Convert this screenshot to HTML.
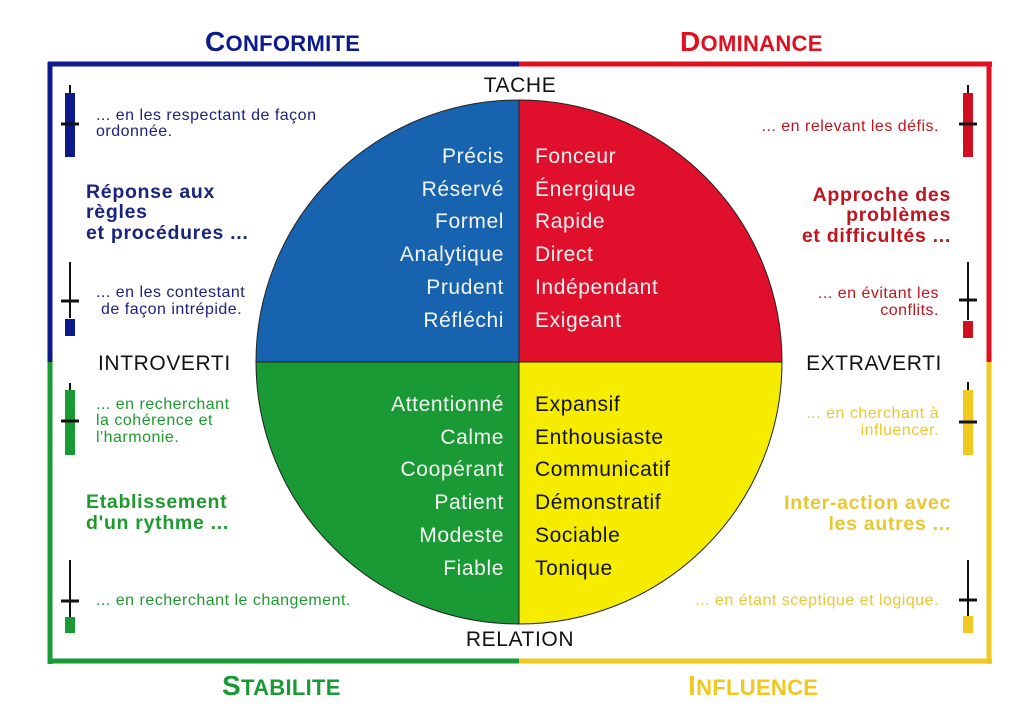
<!DOCTYPE html>
<html><head><meta charset="utf-8"><style>
body{margin:0;background:#fff;}
svg{display:block;font-family:"Liberation Sans",sans-serif;}
</style></head><body>
<svg width="1024" height="714" viewBox="0 0 1024 714">
<rect width="1024" height="714" fill="#fff"/>
<!-- frame -->
<line x1="48" y1="64" x2="519" y2="64" stroke="#0c1a8c" stroke-width="5"/>
<line x1="519" y1="64" x2="992" y2="64" stroke="#e01020" stroke-width="5"/>
<line x1="50" y1="62" x2="50" y2="362" stroke="#0c1a8c" stroke-width="5"/>
<line x1="50" y1="362" x2="50" y2="664" stroke="#1a9a34" stroke-width="5"/>
<line x1="989" y1="62" x2="989" y2="362" stroke="#e01020" stroke-width="5"/>
<line x1="989" y1="362" x2="989" y2="664" stroke="#f0c820" stroke-width="5"/>
<line x1="48" y1="661" x2="519" y2="661" stroke="#1a9a34" stroke-width="5"/>
<line x1="519" y1="661" x2="992" y2="661" stroke="#f0c820" stroke-width="5"/>
<!-- circle -->
<path d="M519,362 L256,362 A263,262 0 0 1 519,100 Z" fill="#1763b0"/>
<path d="M519,362 L519,100 A263,262 0 0 1 782,362 Z" fill="#e0102c"/>
<path d="M519,362 L256,362 A263,262 0 0 0 519,624 Z" fill="#1a9a34"/>
<path d="M519,362 L519,624 A263,262 0 0 0 782,362 Z" fill="#f6ec00"/>
<ellipse cx="519" cy="362" rx="263" ry="262" fill="none" stroke="#222" stroke-width="1"/>
<line x1="256" y1="362" x2="782" y2="362" stroke="#222" stroke-width="1"/>
<line x1="519" y1="100" x2="519" y2="624" stroke="#222" stroke-width="1"/>
<!-- titles -->
<g font-size="22" font-weight="bold" letter-spacing="0.3">
<text x="205" y="51" fill="#0c1a8c"><tspan font-size="28">C</tspan>ONFORMITE</text>
<text x="680" y="51" fill="#e01020"><tspan font-size="28">D</tspan>OMINANCE</text>
<text x="222" y="695" fill="#1a9a34"><tspan font-size="28">S</tspan>TABILITE</text>
<text x="688" y="695" fill="#f0c820"><tspan font-size="28">I</tspan>NFLUENCE</text>
</g>
<g font-size="21" fill="#111" letter-spacing="0.6">
<text x="520" y="92" text-anchor="middle">TACHE</text>
<text x="520" y="646" text-anchor="middle">RELATION</text>
<text x="98" y="370">INTROVERTI</text>
<text x="942" y="370" text-anchor="end">EXTRAVERTI</text>
</g>
<!-- circle words -->
<g font-size="21" letter-spacing="0.6" fill="#f4f4f4" text-anchor="end">
<text x="504" y="163">Précis</text><text x="504" y="196">Réservé</text><text x="504" y="228">Formel</text>
<text x="504" y="261">Analytique</text><text x="504" y="294">Prudent</text><text x="504" y="327">Réfléchi</text>
<text x="504" y="411">Attentionné</text><text x="504" y="444">Calme</text><text x="504" y="476">Coopérant</text>
<text x="504" y="509">Patient</text><text x="504" y="542">Modeste</text><text x="504" y="575">Fiable</text>
</g>
<g font-size="21" letter-spacing="0.6" fill="#f4f4f4">
<text x="535" y="163">Fonceur</text><text x="535" y="196">Énergique</text><text x="535" y="228">Rapide</text>
<text x="535" y="261">Direct</text><text x="535" y="294">Indépendant</text><text x="535" y="327">Exigeant</text>
</g>
<g font-size="21" letter-spacing="0.6" fill="#111">
<text x="535" y="411">Expansif</text><text x="535" y="444">Enthousiaste</text><text x="535" y="476">Communicatif</text>
<text x="535" y="509">Démonstratif</text><text x="535" y="542">Sociable</text><text x="535" y="575">Tonique</text>
</g>
<!-- side texts -->
<g font-size="16" letter-spacing="0.5">
<text x="96" y="120" fill="#1a237e">... en les respectant de façon</text>
<text x="96" y="136" fill="#1a237e">ordonnée.</text>
<text x="96" y="297" fill="#1a237e">... en les contestant</text>
<text x="101" y="314" fill="#1a237e">de façon intrépide.</text>
<text x="96" y="409" fill="#1f9a2e">... en recherchant</text>
<text x="96" y="425" fill="#1f9a2e">la cohérence et</text>
<text x="96" y="442" fill="#1f9a2e">l'harmonie.</text>
<text x="96" y="605" fill="#1f9a2e">... en recherchant le changement.</text>
<g text-anchor="end">
<text x="939" y="131" fill="#c0141e">... en relevant les défis.</text>
<text x="939" y="298" fill="#c0141e">... en évitant les</text>
<text x="939" y="315" fill="#c0141e">conflits.</text>
<text x="939" y="418" fill="#e8c832">... en cherchant à</text>
<text x="939" y="435" fill="#e8c832">influencer.</text>
<text x="939" y="605" fill="#e8c832">... en étant sceptique et logique.</text>
</g>
</g>
<g font-size="19.5" font-weight="bold" letter-spacing="0.7">
<text x="86" y="198" fill="#1a237e">Réponse aux</text>
<text x="86" y="218" fill="#1a237e">règles</text>
<text x="86" y="239" fill="#1a237e">et procédures ...</text>
<text x="86" y="508" fill="#1f9a2e">Etablissement</text>
<text x="86" y="529" fill="#1f9a2e">d'un rythme ...</text>
<g text-anchor="end">
<text x="951" y="201" fill="#c0141e">Approche des</text>
<text x="951" y="221" fill="#c0141e">problèmes</text>
<text x="951" y="242" fill="#c0141e">et difficultés ...</text>
<text x="951" y="509" fill="#e8c832">Inter-action avec</text>
<text x="951" y="530" fill="#e8c832">les autres ...</text>
</g>
</g>
<!-- bars -->
<g stroke="#111" stroke-width="2">
<line x1="70" y1="85" x2="70" y2="95"/><line x1="70" y1="262" x2="70" y2="318"/>
<line x1="70" y1="383" x2="70" y2="392"/><line x1="70" y1="560" x2="70" y2="617"/>
<line x1="968" y1="85" x2="968" y2="95"/><line x1="968" y1="262" x2="968" y2="320"/>
<line x1="968" y1="382" x2="968" y2="391"/><line x1="968" y1="560" x2="968" y2="616"/>
</g>
<rect x="65" y="93" width="10" height="64" fill="#0c1a8c"/>
<rect x="65" y="319" width="10" height="17" fill="#0c1a8c"/>
<rect x="65" y="390" width="10" height="65" fill="#1a9a34"/>
<rect x="65" y="617" width="10" height="16" fill="#1a9a34"/>
<rect x="963" y="93" width="10" height="64" fill="#d01020"/>
<rect x="963" y="321" width="10" height="17" fill="#d01020"/>
<rect x="963" y="390" width="10" height="65" fill="#f0c820"/>
<rect x="963" y="616" width="10" height="17" fill="#f0c820"/>
<g stroke="#111" stroke-width="3">
<line x1="61" y1="124" x2="79" y2="124"/><line x1="61" y1="301" x2="79" y2="301"/>
<line x1="61" y1="421" x2="79" y2="421"/><line x1="61" y1="601" x2="79" y2="601"/>
<line x1="959" y1="124" x2="977" y2="124"/><line x1="959" y1="300" x2="977" y2="300"/>
<line x1="959" y1="422" x2="977" y2="422"/><line x1="959" y1="600" x2="977" y2="600"/>
</g>
</svg>
</body></html>
